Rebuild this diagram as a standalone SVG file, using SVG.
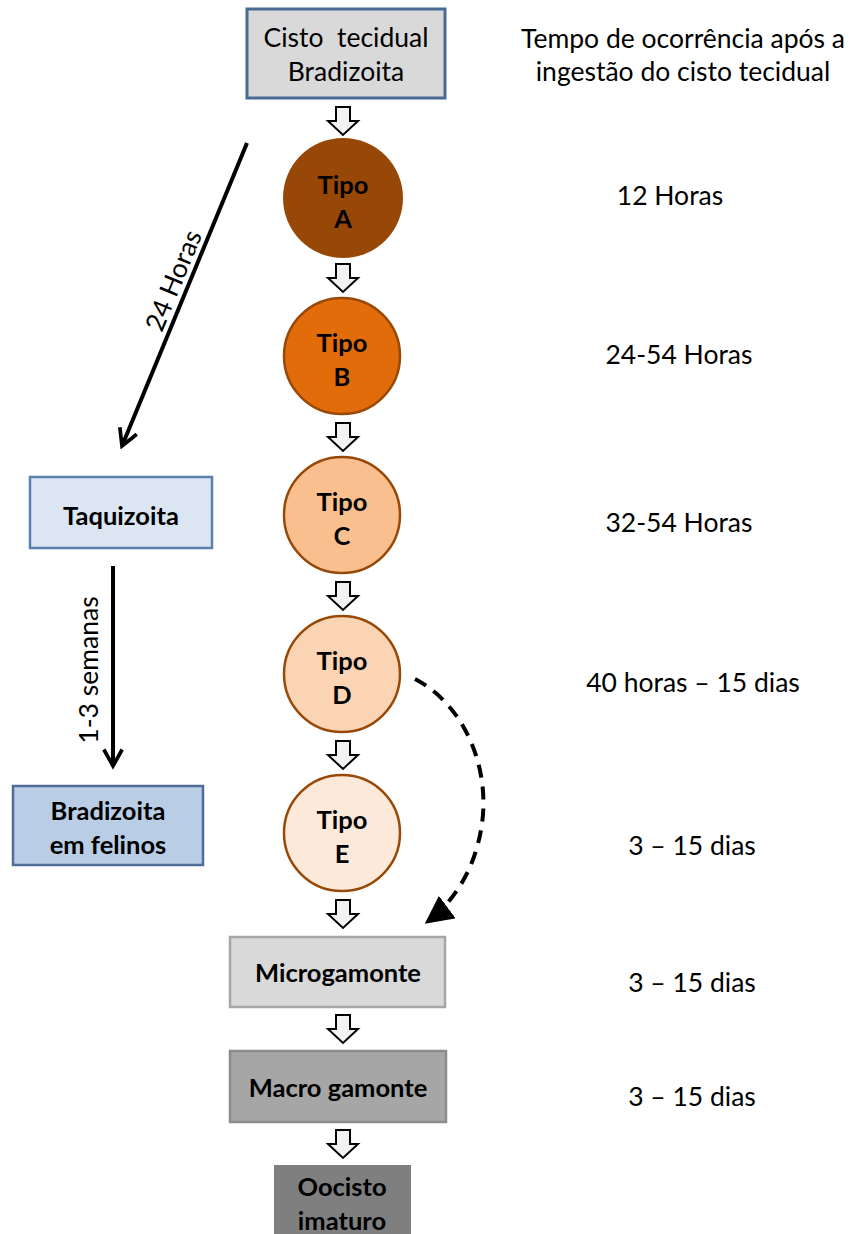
<svg xmlns="http://www.w3.org/2000/svg" width="850" height="1234" viewBox="0 0 850 1234">
<defs>
<style>
text{font-family:Lato,"Liberation Sans",sans-serif;fill:#000;text-anchor:middle}
.b{font-weight:bold;font-size:25.5px}
.r{font-size:26.5px}
.blk{fill:#f2f2f2;stroke:#000;stroke-width:2;stroke-linejoin:miter}
.circ{stroke:#984807;stroke-width:2.5}
.ln{fill:none;stroke:#000;stroke-width:4}
</style>
<marker id="open" viewBox="0 0 12 12" refX="10" refY="6" markerWidth="5.5" markerHeight="5.5" orient="auto" markerUnits="strokeWidth">
<path d="M1,1 L10,6 L1,11" fill="none" stroke="#000" stroke-width="2"/>
</marker>
<marker id="tri" viewBox="0 0 10 10" refX="9" refY="5" markerWidth="7" markerHeight="7" orient="auto" markerUnits="strokeWidth">
<path d="M0,0 L10,5 L0,10 z" fill="#000"/>
</marker>
<path id="ba" d="M-7,0 H7 V14 H15 L0,28 L-15,14 H-7 Z"/>
</defs>
<rect width="850" height="1234" fill="#fff"/>

<g id="connectors">
<use href="#ba" class="blk" x="343" y="107"/>
<use href="#ba" class="blk" x="343" y="264"/>
<use href="#ba" class="blk" x="343" y="423"/>
<use href="#ba" class="blk" x="343" y="582"/>
<use href="#ba" class="blk" x="343" y="741"/>
<use href="#ba" class="blk" x="343" y="900"/>
<use href="#ba" class="blk" x="343" y="1015"/>
<use href="#ba" class="blk" x="343" y="1130"/>
<path class="ln" d="M247,143 L122,446" marker-end="url(#open)"/>
<text class="r" transform="translate(182,284) rotate(-67.5)">24 Horas</text>
<path class="ln" d="M113,566 L113,766" marker-end="url(#open)"/>
<text class="r" transform="translate(98,670) rotate(-90)">1-3 semanas</text>
<path class="ln" d="M415,679 C465,705 492,770 481,830 C473,875 450,905 427,922" stroke-dasharray="13,9" stroke-width="3.5" marker-end="url(#tri)"/>
</g>

<g id="cisto">
<rect x="247" y="9" width="198" height="89" fill="#d9d9d9" stroke="#4a6a94" stroke-width="3"/>
<text class="r" x="346" y="47">Cisto&#160; tecidual</text>
<text class="r" x="346" y="81">Bradizoita</text>
</g>
<g id="tipoA">
<circle cx="343" cy="198" r="60" fill="#974806"/>
<text class="b" x="343" y="194">Tipo</text>
<text class="b" x="343" y="228">A</text>
</g>
<g id="tipoB">
<circle class="circ" cx="342" cy="356" r="58" fill="#e36c0a"/>
<text class="b" x="342" y="352">Tipo</text>
<text class="b" x="342" y="386">B</text>
</g>
<g id="tipoC">
<circle class="circ" cx="342" cy="515" r="58" fill="#fabf8f"/>
<text class="b" x="342" y="511">Tipo</text>
<text class="b" x="342" y="545">C</text>
</g>
<g id="tipoD">
<circle class="circ" cx="342" cy="674" r="58" fill="#fbd4b4"/>
<text class="b" x="342" y="670">Tipo</text>
<text class="b" x="342" y="704">D</text>
</g>
<g id="tipoE">
<circle class="circ" cx="342" cy="833" r="58" fill="#fde9d9"/>
<text class="b" x="342" y="829">Tipo</text>
<text class="b" x="342" y="863">E</text>
</g>
<g id="microgamonte">
<rect x="230" y="937" width="215" height="70" fill="#d9d9d9" stroke="#a6a6a6" stroke-width="2.5"/>
<text class="b" x="338" y="982">Microgamonte</text>
</g>
<g id="macrogamonte">
<rect x="230" y="1051" width="216" height="71" fill="#a6a6a6" stroke="#8c8c8c" stroke-width="2.5"/>
<text class="b" x="338" y="1097">Macro gamonte</text>
</g>
<g id="oocisto">
<rect x="274" y="1165" width="137" height="75" fill="#7f7f7f"/>
<text class="b" x="342" y="1196">Oocisto</text>
<text class="b" x="342" y="1230">imaturo</text>
</g>
<g id="taquizoita">
<rect x="30" y="477" width="182" height="71" fill="#dce6f2" stroke="#5b7fae" stroke-width="2.5"/>
<text class="b" x="121" y="525">Taquizoita</text>
</g>
<g id="bradizoita-felinos">
<rect x="13" y="786" width="190" height="79" fill="#b9cde5" stroke="#4f6d9a" stroke-width="2.5"/>
<text class="b" x="108" y="820">Bradizoita</text>
<text class="b" x="108" y="854">em felinos</text>
</g>

<g id="tempos">
<text class="r" x="683" y="48">Tempo de ocorrência após a</text>
<text class="r" x="683" y="81">ingestão do cisto tecidual</text>
<text class="r" x="670" y="205">12 Horas</text>
<text class="r" x="679" y="364">24-54 Horas</text>
<text class="r" x="679" y="532">32-54 Horas</text>
<text class="r" x="693" y="692">40 horas – 15 dias</text>
<text class="r" x="692" y="855">3 – 15 dias</text>
<text class="r" x="692" y="992">3 – 15 dias</text>
<text class="r" x="692" y="1106">3 – 15 dias</text>
</g>
</svg>
